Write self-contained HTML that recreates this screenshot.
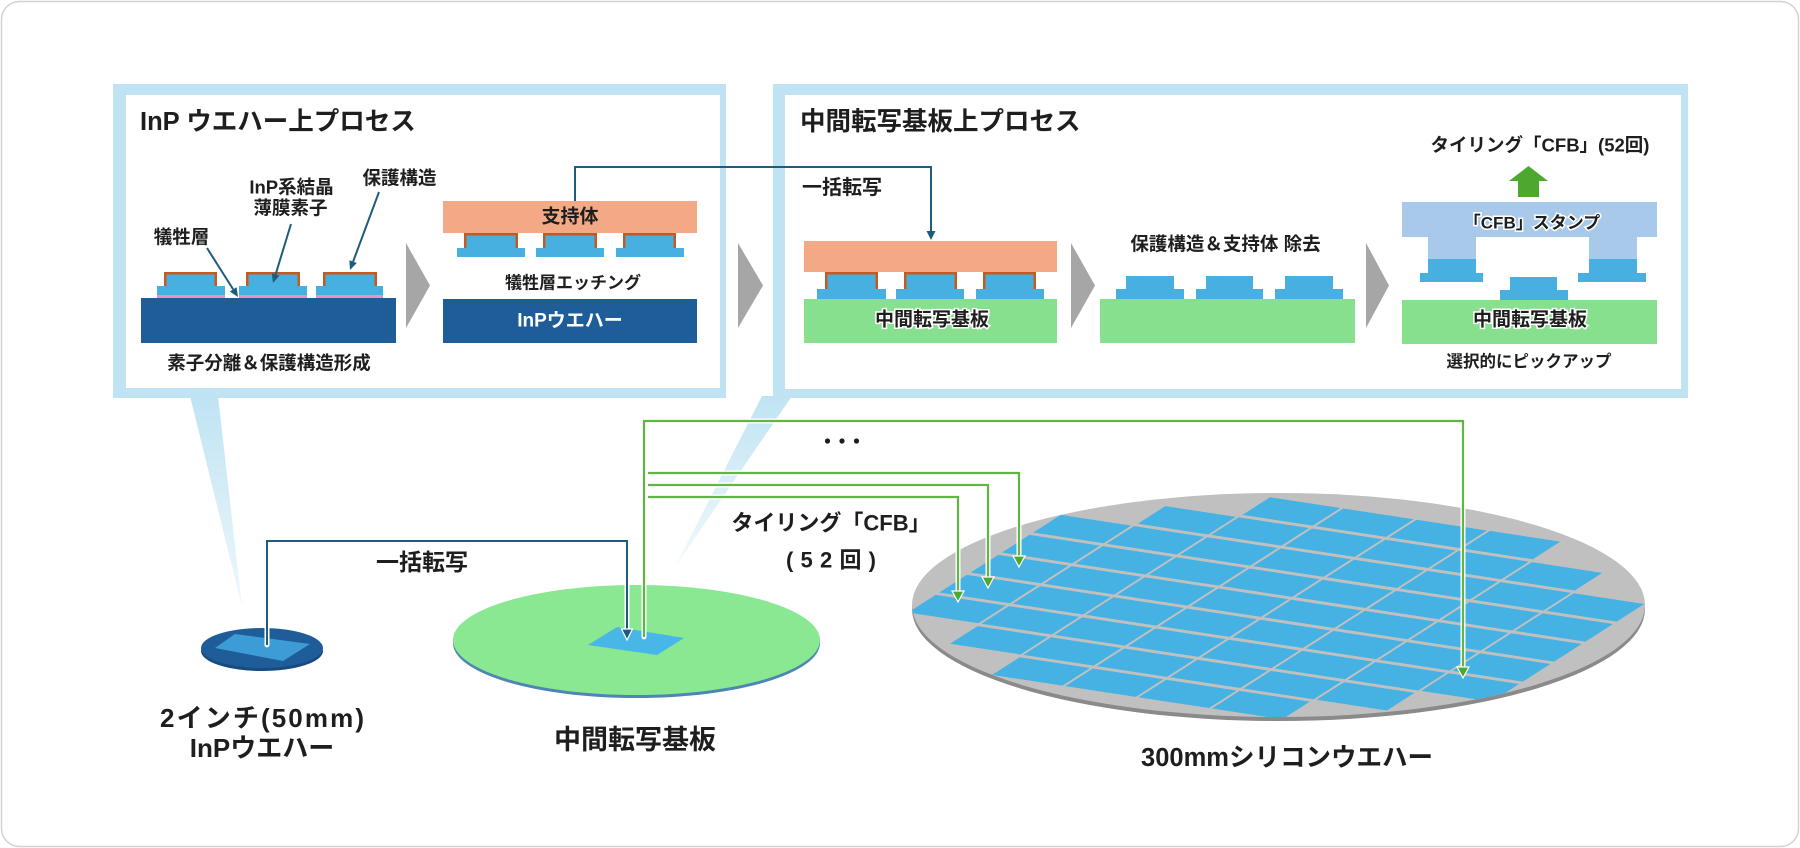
<!DOCTYPE html>
<html><head><meta charset="utf-8"><style>
html,body{margin:0;padding:0;background:#fff;}
body{width:1800px;height:848px;overflow:hidden;}
svg{display:block;}
text{font-family:"Liberation Sans","Noto Sans CJK JP",sans-serif;font-weight:bold;fill:#1e1e1e;}
</style></head><body>
<svg width="1800" height="848" viewBox="0 0 1800 848" xmlns="http://www.w3.org/2000/svg">
<defs>
<linearGradient id="t1" x1="0" y1="0" x2="0" y2="1"><stop offset="0" stop-color="#bfe3f3"/><stop offset="1" stop-color="#bfe3f3" stop-opacity="0.25"/></linearGradient>
<linearGradient id="t2" x1="0" y1="0" x2="0" y2="1"><stop offset="0" stop-color="#bfe3f3"/><stop offset="1" stop-color="#bfe3f3" stop-opacity="0.2"/></linearGradient>
<clipPath id="wc"><ellipse cx="1278.5" cy="605" rx="366.5" ry="112"/></clipPath>
</defs>
<rect x="1.5" y="1.5" width="1797" height="845" rx="18" fill="#fff" stroke="#d2d2d2" stroke-width="1.5"/>

<!-- Panels -->
<rect x="113" y="84" width="613" height="314" fill="#bfe3f3"/>
<rect x="126" y="95" width="594" height="293" fill="#fff"/>
<rect x="773" y="84" width="915" height="314" fill="#bfe3f3"/>
<rect x="785" y="95" width="896" height="294" fill="#fff"/>

<!-- tails -->
<polygon points="190,396 218,396 242,607" fill="url(#t1)"/>
<polygon points="762,396 792,396 675,567" fill="url(#t2)"/>

<!-- Titles -->
<text x="140" y="122" font-size="25.5" dominant-baseline="central">InP ウエハー上プロセス</text>
<text x="800" y="122" font-size="25.5" dominant-baseline="central">中間転写基板上プロセス</text>

<!-- Panel1 diagram1 -->
<rect x="141" y="298" width="255" height="45" fill="#1f5d99"/>
<g fill="#f08bd5">
<rect x="157" y="295" width="68" height="3"/><rect x="239" y="295" width="68" height="3"/><rect x="316" y="295" width="67" height="3"/>
</g>
<g fill="#47b0e0">
<rect x="157" y="286" width="68" height="9"/><rect x="239" y="286" width="68" height="9"/><rect x="316" y="286" width="67" height="9"/>
</g>
<g fill="#c65a1e">
<rect x="164" y="272" width="53" height="14"/><rect x="246" y="272" width="54" height="14"/><rect x="323" y="272" width="54" height="14"/>
</g>
<g fill="#47b0e0">
<rect x="166.5" y="274.5" width="48" height="12"/><rect x="248.5" y="274.5" width="49" height="12"/><rect x="325.5" y="274.5" width="49" height="12"/>
</g>
<g stroke="#1f5b7d" stroke-width="2" fill="none">
<line x1="207" y1="248" x2="233.2" y2="289.4"/>
<line x1="291" y1="224" x2="275.6" y2="274.4"/>
<line x1="379" y1="192" x2="353.1" y2="261.6"/>
</g>
<g fill="#1f5b7d">
<polygon points="238,297 229.8,291.5 236.6,287.3"/>
<polygon points="273,283 279.4,275.6 271.8,273.2"/>
<polygon points="350,270 356.8,263 349.4,260.2"/>
</g>
<text x="181.5" y="237" font-size="18.5" text-anchor="middle" dominant-baseline="central">犠牲層</text>
<text x="291.5" y="187" font-size="18.5" text-anchor="middle" dominant-baseline="central">InP系結晶</text>
<text x="290.5" y="208" font-size="18.5" text-anchor="middle" dominant-baseline="central">薄膜素子</text>
<text x="399.5" y="178" font-size="18.5" text-anchor="middle" dominant-baseline="central">保護構造</text>
<text x="269" y="363" font-size="18.5" text-anchor="middle" dominant-baseline="central">素子分離＆保護構造形成</text>

<!-- gray arrows -->
<g fill="#a6a6a6">
<polygon points="406,243 406,328 430,285.5"/>
<polygon points="738,243 738,328 763,285.5"/>
<polygon points="1071,243 1071,328 1095,285.5"/>
<polygon points="1366,243 1366,328 1389,285.5"/>
</g>

<!-- Panel1 diagram2 -->
<rect x="443" y="201" width="254" height="32" fill="#f3a985"/>
<g fill="#c65a1e">
<rect x="464" y="233" width="54" height="15"/><rect x="543" y="233" width="54" height="15"/><rect x="623" y="233" width="53" height="15"/>
</g>
<g fill="#47b0e0">
<rect x="466.5" y="235.5" width="49" height="13"/><rect x="545.5" y="235.5" width="49" height="13"/><rect x="625.5" y="235.5" width="48" height="13"/>
<rect x="457" y="248" width="68" height="9"/><rect x="536" y="248" width="68" height="9"/><rect x="616" y="248" width="68" height="9"/>
</g>
<rect x="443" y="299" width="254" height="44" fill="#1f5d99"/>
<text x="570" y="217" font-size="19" text-anchor="middle" dominant-baseline="central">支持体</text>
<text x="573" y="283" font-size="17" text-anchor="middle" dominant-baseline="central">犠牲層エッチング</text>
<text x="570" y="321" font-size="19" text-anchor="middle" dominant-baseline="central" style="fill:#fff">InPウエハー</text>

<!-- connector top -->
<path d="M575,201 V167 H931 V231" fill="none" stroke="#1f5b7d" stroke-width="2"/>
<polygon points="926.5,231 935.5,231 931,240" fill="#1f5b7d"/>
<text x="802" y="188" font-size="20" dominant-baseline="central">一括転写</text>

<!-- Panel2 diagram1 -->
<rect x="804" y="241" width="253" height="31" fill="#f3a985"/>
<g fill="#c65a1e">
<rect x="825" y="272" width="53" height="17"/><rect x="904" y="272" width="53" height="17"/><rect x="983" y="272" width="53" height="17"/>
</g>
<g fill="#47b0e0">
<rect x="827.5" y="274.5" width="48" height="15"/><rect x="906.5" y="274.5" width="48" height="15"/><rect x="985.5" y="274.5" width="48" height="15"/>
<rect x="817" y="289" width="69" height="10"/><rect x="896" y="289" width="68" height="10"/><rect x="976" y="289" width="68" height="10"/>
</g>
<rect x="804" y="299" width="253" height="44" fill="#86e08e"/>
<text x="932" y="320" font-size="19" text-anchor="middle" dominant-baseline="central" stroke="#fff" stroke-width="3" paint-order="stroke">中間転写基板</text>

<!-- Panel2 diagram2 -->
<rect x="1100" y="299" width="255" height="44" fill="#86e08e"/>
<g fill="#47b0e0">
<rect x="1116" y="289" width="68" height="10"/><rect x="1196" y="289" width="67" height="10"/><rect x="1275" y="289" width="68" height="10"/>
<rect x="1126" y="276" width="48" height="13"/><rect x="1206" y="276" width="47" height="13"/><rect x="1285" y="276" width="48" height="13"/>
</g>
<text x="1225.5" y="244" font-size="18.5" text-anchor="middle" dominant-baseline="central">保護構造＆支持体 除去</text>

<!-- Panel2 diagram3 -->
<g fill="#a9c9ea">
<rect x="1402" y="202" width="255" height="35"/>
<rect x="1428" y="237" width="48" height="22"/>
<rect x="1589" y="237" width="48" height="22"/>
</g>
<g fill="#47b0e0">
<rect x="1428" y="259" width="48" height="14"/><rect x="1420" y="273" width="63" height="9"/>
<rect x="1589" y="259" width="48" height="14"/><rect x="1578" y="273" width="68" height="9"/>
<rect x="1510" y="277" width="47" height="13"/><rect x="1500" y="290" width="68" height="10"/>
</g>
<rect x="1402" y="300" width="255" height="44" fill="#86e08e"/>
<polygon points="1509,181 1528.5,166 1548,181 1539,181 1539,197 1518,197 1518,181" fill="#4ea72e"/>
<text x="1540" y="145" font-size="18.5" text-anchor="middle" dominant-baseline="central">タイリング「CFB」(52回)</text>
<text x="1532" y="223" font-size="17" text-anchor="middle" dominant-baseline="central" stroke="#fff" stroke-width="3" paint-order="stroke">「CFB」スタンプ</text>
<text x="1530" y="320" font-size="19" text-anchor="middle" dominant-baseline="central" stroke="#fff" stroke-width="3" paint-order="stroke">中間転写基板</text>
<text x="1529" y="362" font-size="16.5" text-anchor="middle" dominant-baseline="central">選択的にピックアップ</text>

<!-- Small InP wafer -->
<ellipse cx="262" cy="651" rx="61" ry="20" fill="#174a7e"/>
<ellipse cx="262" cy="648" rx="61" ry="20" fill="#1f5d99"/>
<polygon points="215,648 235,634 310,644 283,661" fill="#3d9bd6"/>

<!-- Middle wafer -->
<ellipse cx="636.5" cy="643" rx="183.5" ry="55" fill="#4d86b3"/>
<ellipse cx="636.5" cy="640" rx="183.5" ry="55" fill="#89e891"/>
<polygon points="588,645 617,627 684,638 657,655" fill="#48b6e6"/>

<!-- Big wafer -->
<ellipse cx="1278.5" cy="609" rx="366.5" ry="112" fill="#8a8a8a"/>
<ellipse cx="1278.5" cy="605" rx="366.5" ry="112" fill="#c0c0c0"/>
<g clip-path="url(#wc)">
<g transform="matrix(73.3 11.2 -31.3 20 1270 497.3)" fill="#46b2e3">
<rect x="0" y="0" width=".96" height=".88"/><rect x="1" y="0" width=".96" height=".88"/><rect x="2" y="0" width=".96" height=".88"/><rect x="3" y="0" width=".96" height=".88"/>
<rect x="-1" y="1" width=".96" height=".88"/><rect x="0" y="1" width=".96" height=".88"/><rect x="1" y="1" width=".96" height=".88"/><rect x="2" y="1" width=".96" height=".88"/><rect x="3" y="1" width=".96" height=".88"/><rect x="4" y="1" width=".96" height=".88"/>
<rect x="-2" y="2" width=".96" height=".88"/><rect x="-1" y="2" width=".96" height=".88"/><rect x="0" y="2" width=".96" height=".88"/><rect x="1" y="2" width=".96" height=".88"/><rect x="2" y="2" width=".96" height=".88"/><rect x="3" y="2" width=".96" height=".88"/><rect x="4" y="2" width=".96" height=".88"/><rect x="5" y="2" width=".96" height=".88"/>
<rect x="-2" y="3" width=".96" height=".88"/><rect x="-1" y="3" width=".96" height=".88"/><rect x="0" y="3" width=".96" height=".88"/><rect x="1" y="3" width=".96" height=".88"/><rect x="2" y="3" width=".96" height=".88"/><rect x="3" y="3" width=".96" height=".88"/><rect x="4" y="3" width=".96" height=".88"/><rect x="5" y="3" width=".96" height=".88"/>
<rect x="-2" y="4" width=".96" height=".88"/><rect x="-1" y="4" width=".96" height=".88"/><rect x="0" y="4" width=".96" height=".88"/><rect x="1" y="4" width=".96" height=".88"/><rect x="2" y="4" width=".96" height=".88"/><rect x="3" y="4" width=".96" height=".88"/><rect x="4" y="4" width=".96" height=".88"/><rect x="5" y="4" width=".96" height=".88"/>
<rect x="-2" y="5" width=".96" height=".88"/><rect x="-1" y="5" width=".96" height=".88"/><rect x="0" y="5" width=".96" height=".88"/><rect x="1" y="5" width=".96" height=".88"/><rect x="2" y="5" width=".96" height=".88"/><rect x="3" y="5" width=".96" height=".88"/><rect x="4" y="5" width=".96" height=".88"/><rect x="5" y="5" width=".96" height=".88"/>
<rect x="-2" y="6" width=".96" height=".88"/><rect x="-1" y="6" width=".96" height=".88"/><rect x="0" y="6" width=".96" height=".88"/><rect x="1" y="6" width=".96" height=".88"/><rect x="2" y="6" width=".96" height=".88"/><rect x="3" y="6" width=".96" height=".88"/><rect x="4" y="6" width=".96" height=".88"/><rect x="5" y="6" width=".96" height=".88"/>
<rect x="-1" y="7" width=".96" height=".88"/><rect x="0" y="7" width=".96" height=".88"/><rect x="1" y="7" width=".96" height=".88"/><rect x="2" y="7" width=".96" height=".88"/><rect x="3" y="7" width=".96" height=".88"/><rect x="4" y="7" width=".96" height=".88"/>
<rect x="0" y="8" width=".96" height=".88"/><rect x="1" y="8" width=".96" height=".88"/><rect x="2" y="8" width=".96" height=".88"/><rect x="3" y="8" width=".96" height=".88"/>
</g>
</g>

<!-- bottom dark connector -->
<path d="M267,645 V541 H627 V630" fill="none" stroke="#fff" stroke-width="5" stroke-linecap="round"/>
<path d="M267,645 V541 H627 V630" fill="none" stroke="#1f5b7d" stroke-width="2"/>
<polygon points="621.5,629 632.5,629 627,640" fill="#1f5b7d" stroke="#fff" stroke-width="1.2"/>

<!-- green connectors -->
<g fill="none" stroke="#fff" stroke-width="5" stroke-linecap="round">
<path d="M644,637 V421 H1463 V668"/>
<path d="M648,473 H1019 V557"/>
<path d="M648,485 H988 V578"/>
<path d="M648,497 H958 V592"/>
</g>
<g fill="none" stroke="#62b446" stroke-width="2.2">
<path d="M644,637 V421 H1463 V668"/>
<path d="M648,473 H1019 V557"/>
<path d="M648,485 H988 V578"/>
<path d="M648,497 H958 V592"/>
</g>
<g fill="#4ea72e" stroke="#fff" stroke-width="1.2">
<polygon points="1457,667 1469,667 1463,678"/>
<polygon points="1013,556 1025,556 1019,567"/>
<polygon points="982,577 994,577 988,588"/>
<polygon points="952,591 964,591 958,602"/>
</g>
<g fill="#1e1e1e">
<circle cx="827.5" cy="441" r="2.6"/><circle cx="842" cy="441" r="2.6"/><circle cx="856.5" cy="441" r="2.6"/>
</g>

<!-- bottom labels -->
<text x="422" y="562" font-size="23" text-anchor="middle" dominant-baseline="central">一括転写</text>
<text x="831" y="523" font-size="22" text-anchor="middle" dominant-baseline="central">タイリング「CFB」</text>
<text x="831" y="560" font-size="22" text-anchor="middle" dominant-baseline="central" textLength="90" lengthAdjust="spacing">(52回)</text>
<text x="262" y="718" font-size="26" text-anchor="middle" dominant-baseline="central" textLength="204" lengthAdjust="spacing">2インチ(50mm)</text>
<text x="262" y="748" font-size="26" text-anchor="middle" dominant-baseline="central">InPウエハー</text>
<text x="635" y="740" font-size="27" text-anchor="middle" dominant-baseline="central">中間転写基板</text>
<text x="1287" y="758" font-size="25.5" text-anchor="middle" dominant-baseline="central">300mmシリコンウエハー</text>
</svg>
</body></html>
